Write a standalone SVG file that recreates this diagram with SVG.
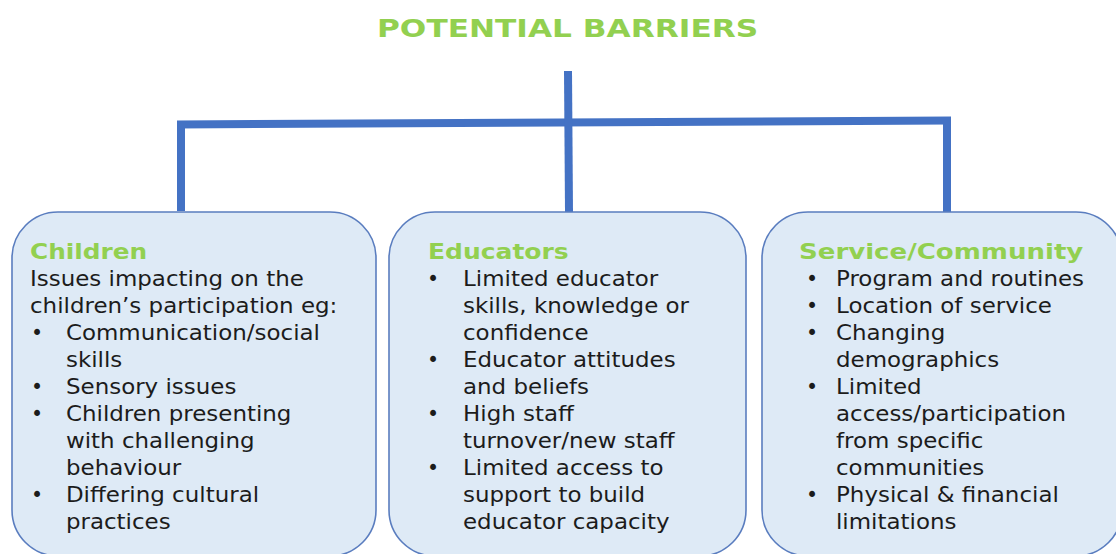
<svg xmlns="http://www.w3.org/2000/svg" width="1116" height="554" viewBox="0 0 1116 554">
<style>
.bg{fill:#ffffff}
.box{fill:#deeaf6;stroke:#5a7dbf;stroke-width:1.6}
.conn{stroke:#4472c4;stroke-width:8;fill:none;stroke-linecap:butt}
.title{font-family:"DejaVu Sans",Verdana,sans-serif;font-weight:bold;font-size:24px;fill:#92d050}
.hd{font-family:"DejaVu Sans",Verdana,sans-serif;font-weight:bold;font-size:21px;fill:#92d050}
.tx{font-family:"DejaVu Sans",Verdana,sans-serif;font-size:20.5px;fill:#1c1c1c}
</style>
<rect class="bg" x="0" y="0" width="1116" height="554"/>
<g transform="translate(377 0) scale(1.3 1)">
<text id="title" class="title" x="0" y="37">POTENTIAL BARRIERS</text>
</g>
<g id="connectors">
<line class="conn" x1="177" y1="124.5" x2="951" y2="120.5"/>
<line class="conn" x1="568" y1="71" x2="569" y2="212"/>
<line class="conn" x1="181" y1="121" x2="181" y2="211"/>
<line class="conn" x1="947" y1="117" x2="947" y2="212"/>
</g>
<g id="children">
<rect class="box" x="12" y="212" width="364" height="344" rx="46" ry="46"/>
<g transform="translate(30 0) scale(1.18 1)">
<text class="hd" x="0" y="259">Children</text>
</g>
<text class="tx" x="31" y="340">•</text>
<text class="tx" x="31" y="394">•</text>
<text class="tx" x="31" y="421">•</text>
<text class="tx" x="31" y="502">•</text>
<g transform="translate(30 0) scale(1.12 1)">
<text class="tx" x="0" y="286">Issues impacting on the</text>
<text class="tx" x="0" y="313">children’s participation eg:</text>
<text class="tx" x="32.1" y="340">Communication/social</text>
<text class="tx" x="32.1" y="367">skills</text>
<text class="tx" x="32.1" y="394">Sensory issues</text>
<text class="tx" x="32.1" y="421">Children presenting</text>
<text class="tx" x="32.1" y="448">with challenging</text>
<text class="tx" x="32.1" y="475">behaviour</text>
<text class="tx" x="32.1" y="502">Differing cultural</text>
<text class="tx" x="32.1" y="529">practices</text>
</g>
</g>
<g id="educators">
<rect class="box" x="389" y="212" width="357" height="344" rx="46" ry="46"/>
<g transform="translate(428 0) scale(1.19 1)">
<text class="hd" x="0" y="259">Educators</text>
</g>
<text class="tx" x="427" y="286">•</text>
<text class="tx" x="427" y="367">•</text>
<text class="tx" x="427" y="421">•</text>
<text class="tx" x="427" y="475">•</text>
<g transform="translate(463 0) scale(1.12 1)">
<text class="tx" x="0" y="286">Limited educator</text>
<text class="tx" x="0" y="313">skills, knowledge or</text>
<text class="tx" x="0" y="340">confidence</text>
<text class="tx" x="0" y="367">Educator attitudes</text>
<text class="tx" x="0" y="394">and beliefs</text>
<text class="tx" x="0" y="421">High staff</text>
<text class="tx" x="0" y="448">turnover/new staff</text>
<text class="tx" x="0" y="475">Limited access to</text>
<text class="tx" x="0" y="502">support to build</text>
<text class="tx" x="0" y="529">educator capacity</text>
</g>
</g>
<g id="service">
<rect class="box" x="762" y="212" width="360" height="344" rx="46" ry="46"/>
<g transform="translate(799 0) scale(1.24 1)">
<text class="hd" x="0" y="259">Service/Community</text>
</g>
<text class="tx" x="806" y="286">•</text>
<text class="tx" x="806" y="313">•</text>
<text class="tx" x="806" y="340">•</text>
<text class="tx" x="806" y="394">•</text>
<text class="tx" x="806" y="502">•</text>
<g transform="translate(836 0) scale(1.12 1)">
<text class="tx" x="0" y="286">Program and routines</text>
<text class="tx" x="0" y="313">Location of service</text>
<text class="tx" x="0" y="340">Changing</text>
<text class="tx" x="0" y="367">demographics</text>
<text class="tx" x="0" y="394">Limited</text>
<text class="tx" x="0" y="421">access/participation</text>
<text class="tx" x="0" y="448">from specific</text>
<text class="tx" x="0" y="475">communities</text>
<text class="tx" x="0" y="502">Physical &amp; financial</text>
<text class="tx" x="0" y="529">limitations</text>
</g>
</g>
</svg>
